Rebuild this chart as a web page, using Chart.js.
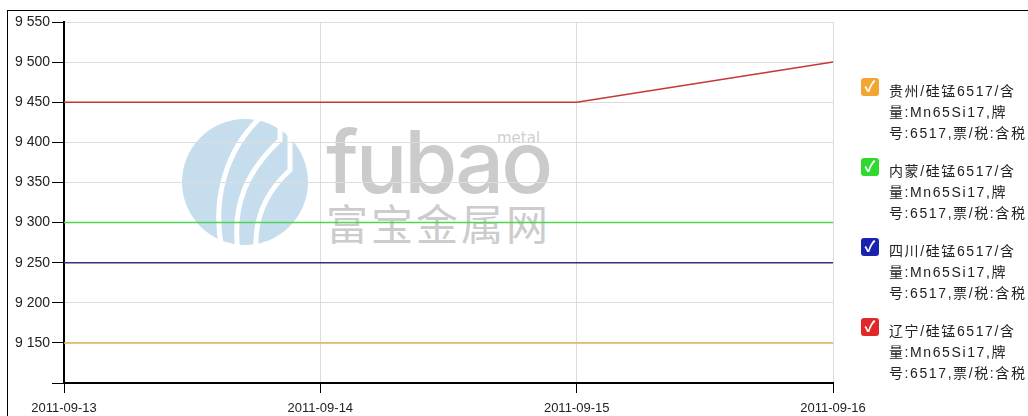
<!DOCTYPE html>
<html>
<head>
<meta charset="utf-8">
<script src="https://cdn.jsdelivr.net/npm/chart.js@4.4.1/dist/chart.umd.min.js"></script>
<style>
  html,body{margin:0;padding:0;background:#fff;}
  #wrap{position:relative;width:1028px;height:416px;overflow:hidden;background:#fff;}
  #frame{position:absolute;left:7px;top:10px;width:1100px;height:500px;border-top:1px solid #000;border-left:1px solid #000;}
  #wm{position:absolute;left:0;top:0;width:1028px;height:416px;}
  #c{position:absolute;left:0;top:0;}
  #legend{position:absolute;left:861px;top:0;width:167px;font-family:Arial,"Liberation Sans","Noto Sans CJK SC",sans-serif;font-size:14px;color:#222;}
  .item{position:absolute;left:0;width:167px;}
  .box{position:absolute;left:0;top:-4px;width:18px;height:18px;border-radius:3px;color:#fff;font-size:15px;line-height:18px;text-align:center;font-weight:bold;}
  .txt{position:absolute;left:28px;top:-1px;line-height:21px;white-space:nowrap;letter-spacing:1.6px;}
</style>
</head>
<body>
<div id="wrap">
  <div id="frame"></div>
  <svg id="wm" width="1028" height="416">
    <circle cx="245" cy="182" r="63" fill="#c5dded"/>
    <path d="M222 250 C 212 200, 225 150, 262 116" stroke="#fff" stroke-width="5" fill="none"/>
    <path d="M238 252 C 232 205, 246 172, 280 140 L 280 112" stroke="#fff" stroke-width="5" fill="none"/>
    <path d="M256 250 C 254 215, 268 190, 290 170 L 290 128" stroke="#fff" stroke-width="5" fill="none"/>
    <text x="326" y="193" font-family="Inter, 'DejaVu Sans', sans-serif" font-size="86" font-weight="500" fill="#cbcbcb" letter-spacing="-3">fubao</text>
    <text x="497" y="143" font-family="'DejaVu Sans', sans-serif" font-size="15" fill="#cfcfcf">metal</text>
    <text x="326" y="240" font-family="'Noto Sans CJK SC', sans-serif" font-size="42" fill="#cccccc" letter-spacing="3">富宝金属网</text>
  </svg>
  <canvas id="c" width="1028" height="416"></canvas>
  <div id="legend"></div>
</div>
<script>
const categories = ['2011-09-13', '2011-09-14', '2011-09-15', '2011-09-16'];
const seriesNames = [
  '贵州/硅锰6517/含量:Mn65Si17,牌号:6517,票/税:含税',
  '内蒙/硅锰6517/含量:Mn65Si17,牌号:6517,票/税:含税',
  '四川/硅锰6517/含量:Mn65Si17,牌号:6517,票/税:含税',
  '辽宁/硅锰6517/含量:Mn65Si17,牌号:6517,票/税:含税'
];
const guizhou = [9150, 9150, 9150, 9150];
const neimeng = [9300, 9300, 9300, 9300];
const sichuan = [9250, 9250, 9250, 9250];
const liaoning = [9450, 9450, 9450, 9500];
const yTicks = [9100, 9150, 9200, 9250, 9300, 9350, 9400, 9450, 9500, 9550];
const legendLines = [
  ['贵州/硅锰6517/含', '量:Mn65Si17,牌', '号:6517,票/税:含税'],
  ['内蒙/硅锰6517/含', '量:Mn65Si17,牌', '号:6517,票/税:含税'],
  ['四川/硅锰6517/含', '量:Mn65Si17,牌', '号:6517,票/税:含税'],
  ['辽宁/硅锰6517/含', '量:Mn65Si17,牌', '号:6517,票/税:含税']
];

const lineColors = ['#dcb45a', '#4fd64f', '#33337f', '#c43838'];
const boxColors = ['#f2a531', '#2fd92f', '#1a22b0', '#e02828'];
const seriesData = [guizhou, neimeng, sichuan, liaoning];

const legend = document.getElementById('legend');
legendLines.forEach((lines, i) => {
  const it = document.createElement('div');
  it.className = 'item';
  it.style.top = (82 + i * 80) + 'px';
  it.innerHTML = '<div class="box" style="background:' + boxColors[i] + '">✓</div>' +
    '<div class="txt">' + lines.join('<br>') + '</div>';
  legend.appendChild(it);
});

const fmt = v => {
  const s = String(v);
  return s.slice(0, s.length - 3) + ' ' + s.slice(s.length - 3);
};

const xFont = { family: 'Arial, "Liberation Sans", sans-serif', size: 13 };
const yFont = { family: 'Arial, "Liberation Sans", sans-serif', size: 14 };

new Chart(document.getElementById('c'), {
  type: 'line',
  data: {
    labels: categories,
    datasets: seriesData.map((d, i) => ({
      label: seriesNames[i],
      data: d,
      borderColor: lineColors[i],
      backgroundColor: lineColors[i],
      borderWidth: 1.5,
      pointRadius: 0,
      tension: 0,
      fill: false
    }))
  },
  options: {
    responsive: false,
    animation: false,
    layout: { padding: { left: 0, right: 195, top: 22, bottom: 0 } },
    plugins: { legend: { display: false }, tooltip: { enabled: false } },
    scales: {
      x: {
        offset: false,
        grid: { color: '#dcdcdc', tickColor: '#000', tickLength: 10, drawOnChartArea: true },
        border: { color: '#000', width: 2 },
        ticks: { color: '#222', font: xFont, padding: 8, maxRotation: 0, autoSkip: false },
        afterFit: s => { s.height = 33; }
      },
      y: {
        min: 9100,
        max: 9550,
        afterBuildTicks: s => { s.ticks = yTicks.map(v => ({ value: v })); },
        grid: { color: '#dcdcdc', tickColor: '#000', tickLength: 12 },
        border: { color: '#000', width: 2 },
        ticks: {
          color: '#222',
          font: yFont,
          padding: 2,
          callback: v => (v === 9100 ? '' : fmt(v))
        },
        afterFit: s => { s.width = 64; }
      }
    }
  }
});
</script>
</body>
</html>
